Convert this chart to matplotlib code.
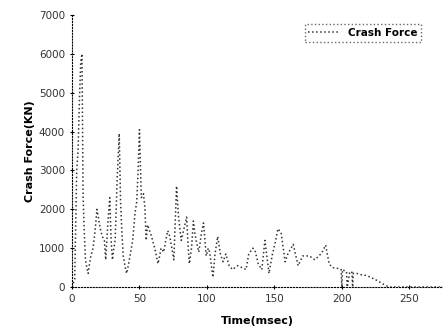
import matplotlib.pyplot as plt

# time (msec) and crash force (kN)
time_ms = [0, 2, 3.5, 4.5, 5.5, 6.5, 7.4, 8.2, 9, 10, 11, 12, 13, 14, 15.6, 17, 18.5,
           20, 21, 22.5, 24, 25, 26.5, 28, 29, 30, 31, 32, 33.5, 35, 36, 37, 38, 39.5,
           40.5, 42, 43.5, 45, 46.7, 48, 49, 50, 51.4, 53, 54, 55, 56, 57, 59, 60.5,
           62, 63.7, 65, 66, 68, 69.5, 71, 72.5, 74, 75.5, 77.5, 79, 80, 81, 83, 85,
           86, 87, 88.6, 90, 91, 92, 94, 96, 97.5, 99.5, 101, 102, 104.5, 106, 108,
           110, 112, 114, 116.5, 119, 122.7, 126, 129, 131, 134, 135.6, 138, 140.7,
           143, 146, 148.6, 151, 152.6, 155, 158, 160, 164, 167.6, 171, 176, 180,
           185, 188, 190.6, 193, 197, 199.5, 200, 200.5, 202, 203.5, 204, 206, 207.5,
           208, 208.5, 211, 214, 218, 222, 226, 230, 233, 236, 245, 260, 275]
force_kn = [0, 200, 3000, 3500, 4800, 5800, 6000, 2400, 1500, 700, 500, 350, 600, 800,
            1000, 1400, 2000, 1700, 1500, 1300, 1200, 700, 1600, 2300, 1200, 700, 1000,
            1200, 2800, 3950, 2200, 1400, 800, 500, 350, 600, 900, 1200, 1900, 2200,
            3000, 4050, 2300, 2400, 2050, 1200, 1600, 1500, 1300, 1100, 900, 600, 800,
            1000, 900, 1200, 1450, 1300, 1000, 700, 2600, 1800, 1500, 1200, 1500, 1800,
            1100, 600, 1000, 1700, 1400, 1200, 900, 1400, 1650, 800, 1000, 900, 250,
            850, 1300, 850, 650, 850, 550, 450, 550, 500, 450, 850, 1000, 950, 600,
            450, 1200, 350, 850, 1200, 1500, 1400, 650, 850, 1100, 550, 800, 800, 700,
            870, 1080, 600, 500, 480, 450, 0, 450, 420, 400, 0, 400, 380, 0, 350, 350,
            320, 300, 240, 170, 90, 30, 0, 0, 0, 0]

fig = plt.figure(figsize=(4.43, 3.33), dpi=100)
ax = fig.add_axes([0.1625, 0.138, 0.8375, 0.817])

ax.plot(time_ms, force_kn, color='#333333', linestyle=':', linewidth=1.1,
        label='Crash Force')

ax.set_xlim(0, 275)
ax.set_ylim(0, 7000)
ax.set_xticks([0, 50, 100, 150, 200, 250])
ax.set_yticks(range(0, 7001, 1000))
ax.tick_params(labelsize=7.5, labelcolor='#333333', length=3, width=0.8,
               direction='inout')
for s in ['top', 'right']:
    ax.spines[s].set_visible(False)
for s in ['left', 'bottom']:
    ax.spines[s].set_linewidth(0.8)
    ax.spines[s].set_linestyle(':')

ax.set_xlabel('Time(msec)', fontsize=8, fontweight='bold', labelpad=9)
ax.set_ylabel('Crash Force(KN)', fontsize=8, fontweight='bold', labelpad=3)

leg = ax.legend(loc='upper right', bbox_to_anchor=(0.955, 0.985), fontsize=7.5,
                fancybox=False, edgecolor='#444444', handlelength=3.0,
                borderpad=0.35)
leg.get_frame().set_linestyle(':')
for t in leg.get_texts():
    t.set_fontweight('bold')

plt.savefig('out.png', dpi=100)
